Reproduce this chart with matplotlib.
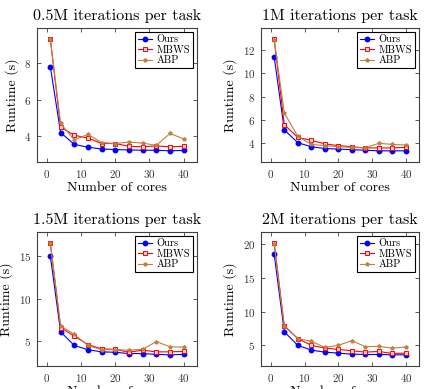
import numpy as np
import matplotlib
matplotlib.use('Agg')
import matplotlib.pyplot as plt

plt.rcParams['font.family'] = 'cmr10'
plt.rcParams['mathtext.fontset'] = 'cm'
plt.rcParams['axes.formatter.use_mathtext'] = True

cores = [1, 4, 8, 12, 16, 20, 24, 28, 32, 36, 40]

titles = ['0.5M iterations per task', '1M iterations per task',
          '1.5M iterations per task', '2M iterations per task']

ours = [
    [7.8, 4.2, 3.55, 3.4, 3.3, 3.27, 3.25, 3.23, 3.23, 3.2, 3.22],
    [11.45, 5.15, 4.05, 3.7, 3.55, 3.5, 3.45, 3.4, 3.35, 3.35, 3.35],
    [15.0, 6.1, 4.5, 4.0, 3.75, 3.7, 3.55, 3.55, 3.45, 3.4, 3.45],
    [18.5, 7.0, 5.0, 4.3, 4.0, 3.85, 3.7, 3.65, 3.65, 3.6, 3.6],
]
mbws = [
    [9.3, 4.5, 4.05, 3.9, 3.6, 3.6, 3.45, 3.42, 3.47, 3.42, 3.45],
    [12.95, 5.6, 4.5, 4.25, 3.95, 3.8, 3.7, 3.6, 3.6, 3.6, 3.65],
    [16.5, 6.6, 5.6, 4.6, 4.1, 4.05, 3.7, 3.95, 3.75, 3.75, 3.8],
    [20.1, 7.9, 6.0, 5.0, 4.6, 4.4, 4.2, 4.0, 4.1, 3.8, 3.85],
]
abp = [
    [9.3, 4.7, 3.8, 4.1, 3.65, 3.6, 3.68, 3.62, 3.5, 4.15, 3.85],
    [12.9, 6.6, 4.6, 3.9, 3.8, 3.7, 3.65, 3.6, 4.0, 3.9, 3.85],
    [16.5, 6.8, 5.8, 4.5, 4.0, 4.0, 3.95, 4.05, 4.95, 4.35, 4.3],
    [20.0, 7.8, 6.0, 5.6, 4.7, 5.0, 5.7, 4.8, 4.85, 4.6, 4.75],
]

yticks = [[4, 6, 8], [4, 6, 8, 10, 12], [5, 10, 15], [5, 10, 15, 20]]

W, H = 424, 389
# axes boxes in pixels: left, top, right, bottom
boxes = [(37, 28, 197, 162), (261, 28, 419, 162),
         (37, 232, 197, 366), (261, 232, 419, 366)]

fig = plt.figure(figsize=(W / 100, H / 100), dpi=100)
brown = (0.75, 0.5, 0.25)
frame = '#404040'

for i in range(4):
    l, t, r, b = boxes[i]
    ax = fig.add_axes([l / W, 1 - b / H, (r - l) / W, (b - t) / H])
    ax.plot(cores, ours[i], color='blue', marker='o', ms=3.2, lw=0.8, label='Ours')
    ax.plot(cores, mbws[i], color='red', marker='s', ms=3.2, lw=0.8,
            mfc=(1, 0.8, 0.8), mec='red', mew=0.7, label='MBWS')
    ax.plot(cores, abp[i], color=brown, marker='*', ms=2.8, lw=0.8, label='ABP')
    ax.margins(0.1)
    ax.set_xticks([0, 10, 20, 30, 40])
    ax.set_yticks(yticks[i])
    ax.tick_params(direction='in', top=True, right=True, length=3, width=0.6,
                   labelsize=8, colors=frame, labelcolor='#333333', pad=4)
    for s in ax.spines.values():
        s.set_color(frame)
        s.set_linewidth(0.8)
    ax.set_xlabel('Number of cores', fontsize=10, labelpad=2)
    ax.set_ylabel('Runtime (s)', fontsize=10, labelpad=4)
    ax.set_title(titles[i], fontsize=11.5, pad=6)
    leg = ax.legend(loc='upper right', fontsize=7.5, fancybox=False, framealpha=1,
                    edgecolor='black', borderpad=0.3, labelspacing=0.1,
                    handlelength=1.4, handletextpad=0.4, borderaxespad=0.35)
    leg.get_frame().set_linewidth(0.8)

fig.savefig('out.png', dpi=100)
